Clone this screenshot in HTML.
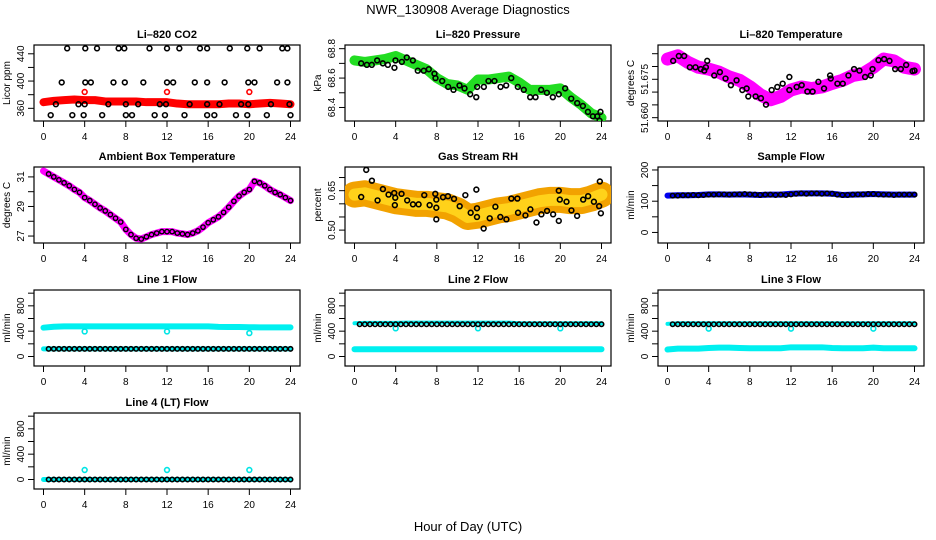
<!DOCTYPE html>
<html><head><meta charset="utf-8">
<style>
html,body{margin:0;padding:0;background:#fff;}
svg{display:block;font-family:"Liberation Sans",sans-serif;}
</style></head>
<body>
<svg id="chart" width="936" height="540" viewBox="0 0 936 540">
<text x="468" y="14" text-anchor="middle" font-size="13">NWR_130908  Average Diagnostics</text>
<text x="468" y="531" text-anchor="middle" font-size="13">Hour of Day (UTC)</text>
</svg>
<script>
// ---------- DATA ----------
const hoursHourly = [0,1,2,3,4,5,6,7,8,9,10,11,12,13,14,15,16,17,18,19,20,21,22,23,24];
const hoursHalf = [0.5,1,1.5,2,2.5,3,3.5,4,4.5,5,5.5,6,6.5,7,7.5,8,8.5,9,9.5,10,10.5,11,11.5,12,12.5,13,13.5,14,14.5,15,15.5,16,16.5,17,17.5,18,18.5,19,19.5,20,20.5,21,21.5,22,22.5,23,23.5,24];

// CO2
const co2Band = [369,371,372,373,372,372,370,370,370,370,369,369,369,367,366,366,366,366,367,367,366,367,368,367,366];
const co2BlackHours = [2.3,4.06,5.2,7.3,7.85,10.3,12.0,13.2,15.2,15.9,18.1,19.8,21.0,23.2,23.7,
 1.77,4.06,4.6,6.8,7.9,9.7,12.0,12.6,14.7,15.9,17.6,19.9,20.5,22.7,23.7,
 1.2,3.4,4.0,6.3,8.0,9.2,11.3,11.9,14.2,15.9,17.1,19.2,19.9,22.1,23.9,
 0.7,2.8,3.9,5.7,8.0,8.6,10.8,11.8,13.7,15.9,16.6,18.7,19.8,21.7,24.0];
const co2BlackVals = [448,448,448,448,448,448,448,448,448,448,448,448,448,448,448,
 398,398,398,398,398,398,398,398,398,398,398,398,398,398,398,
 366,366,366,366,366,366,366,366,366,366,366,366,366,366,366,
 350,350,350,350,350,350,350,350,350,350,350,350,350,350,350];
const co2OutHours = [4,12,20];
const co2OutVals = [384,384,384];

// Pressure
const presBand = [68.72,68.71,68.72,68.73,68.75,68.72,68.69,68.66,68.60,68.56,68.55,68.52,68.59,68.59,68.60,68.61,68.57,68.52,68.52,68.52,68.53,68.47,68.42,68.36,68.33];
const presBlackHours = [0.65,1.2,1.68,2.2,2.75,3.24,3.88,3.98,4.6,5.08,5.67,6.15,6.73,7.22,7.77,7.87,8.52,9.1,9.62,10.2,10.69,11.24,11.83,11.92,12.57,13.02,13.6,14.19,14.74,15.23,15.87,16.45,17.07,17.59,18.14,18.69,19.27,19.85,20.47,21.06,21.64,22.19,22.68,23.16,23.59,23.81,23.9];
const presBlackVals = [68.70,68.69,68.69,68.72,68.70,68.69,68.67,68.72,68.71,68.74,68.72,68.65,68.65,68.66,68.63,68.60,68.58,68.54,68.52,68.55,68.53,68.49,68.47,68.54,68.54,68.58,68.58,68.54,68.55,68.60,68.54,68.52,68.47,68.47,68.52,68.50,68.47,68.49,68.53,68.46,68.43,68.41,68.37,68.34,68.34,68.31,68.37];

// Li-820 temperature
const tempBand = [51.6829,51.6842,51.6816,51.6797,51.679,51.6778,51.6759,51.6746,51.6721,51.669,51.667,51.6683,51.6708,51.672,51.6714,51.672,51.6734,51.6746,51.6765,51.6772,51.6797,51.6829,51.6822,51.6797,51.679];
const tempBlackHours = [0.55,1.1,1.62,2.17,2.72,3.24,3.57,3.73,3.86,4.54,5.09,5.64,6.16,6.71,7.27,7.69,7.85,8.56,9.08,9.57,10.12,10.67,11.19,11.84,11.84,12.55,13.04,13.59,14.1,14.66,15.21,15.8,15.86,16.51,17.03,17.58,18.13,18.65,19.2,19.75,19.92,20.5,21.05,21.57,22.12,22.67,23.19,23.81,24];
const tempBlackVals = [51.6822,51.6841,51.6841,51.6797,51.6797,51.679,51.6784,51.6797,51.6822,51.6765,51.6778,51.6753,51.6727,51.6746,51.6708,51.6714,51.6683,51.6683,51.6676,51.6651,51.6708,51.672,51.6733,51.6759,51.6708,51.672,51.6727,51.6702,51.6702,51.674,51.6714,51.6765,51.6753,51.6733,51.6733,51.6765,51.679,51.6784,51.6759,51.6765,51.679,51.6825,51.6829,51.6822,51.679,51.679,51.6806,51.6782,51.6784];

// Ambient box temperature
const ambVals = [31.2,31.0,30.8,30.6,30.4,30.15,29.95,29.6,29.4,29.15,28.9,28.7,28.45,28.2,27.95,27.45,27.1,26.85,26.8,26.95,27.1,27.2,27.3,27.3,27.3,27.2,27.15,27.1,27.2,27.35,27.6,27.9,28.1,28.3,28.6,28.95,29.35,29.7,29.95,30.15,30.7,30.6,30.4,30.15,29.95,29.8,29.6,29.4];
const ambStart = [0, 31.4];

// Gas stream RH
const rhBand = [0.635,0.64,0.63,0.62,0.61,0.605,0.60,0.60,0.595,0.59,0.575,0.55,0.555,0.565,0.575,0.58,0.59,0.60,0.61,0.615,0.615,0.61,0.61,0.62,0.635];
const rhBlackHours = [0.65,1.14,1.69,2.24,2.76,3.31,3.86,3.92,3.96,4.57,5.12,5.68,6.23,6.78,7.3,7.85,7.95,7.95,7.95,8.6,9.08,9.67,10.22,10.77,11.29,11.84,11.9,11.9,12.55,13.14,13.69,14.17,14.76,15.24,15.83,15.89,16.61,17.09,17.68,18.16,18.71,19.3,19.85,19.85,19.95,20.6,21.08,21.63,22.22,22.7,23.26,23.77,23.84,23.94];
const rhBlackVals = [0.626,0.729,0.688,0.613,0.656,0.635,0.641,0.595,0.623,0.638,0.613,0.598,0.598,0.633,0.595,0.638,0.616,0.585,0.541,0.625,0.629,0.619,0.591,0.633,0.566,0.654,0.583,0.55,0.506,0.545,0.589,0.55,0.541,0.62,0.62,0.566,0.556,0.579,0.529,0.56,0.573,0.56,0.535,0.65,0.616,0.608,0.575,0.554,0.616,0.629,0.608,0.591,0.685,0.564];

// Sample flow
const sampleBand = [118,119,119,120,122,122,121,122,121,120,121,121,124,125,125,125,124,120,121,122,123,122,121,121,121];
const sampleBlack = [118,118,119,119,120,119,120,121,121,122,122,121,122,122,123,122,121,120,121,121,120,121,120,122,124,125,124,125,125,124,125,124,121,120,120,121,122,122,123,123,122,121,121,120,121,121,121,121];

// Line flows
const line1Cyan = [455,470,475,475,475,475,475,475,475,475,475,475,475,475,475,475,475,468,465,465,462,460,460,460,460];
const line1CyanLow = [120,120,120,120,120,120,120,120,120,120,120,120,120,120,120,120,120,120,120,120,120,120,120,120,120];
const line1Black = [120,120,120,120,120,120,120,120,120,120,120,120,120,120,120,120,120,120,120,120,120,120,120,120,120,120,120,120,120,120,120,120,120,120,120,120,120,120,120,120,120,120,120,120,120,120,120,120];
const line1Out = [395,395,370];
const line2Cyan = [525,530,530,530,530,535,535,535,535,535,535,535,535,535,535,535,525,525,525,525,525,525,525,525,525];
const line2CyanLow = [115,115,115,115,115,115,115,115,115,115,115,115,115,115,115,115,115,115,115,115,115,115,115,115,115];
const line2Black = [510,510,510,510,510,510,510,510,510,510,510,510,510,510,510,510,510,510,510,510,510,510,510,510,510,510,510,510,510,510,510,510,510,510,510,510,510,510,510,510,510,510,510,510,510,510,510,510];
const line2Out = [445,445,445];
const line3Cyan = [515,525,525,525,525,525,525,525,525,525,525,525,525,525,525,525,525,525,525,525,525,525,525,525,525];
const line3CyanLow = [110,125,125,125,135,140,140,135,130,130,130,130,145,145,145,145,135,130,130,130,140,130,130,130,130];
const line3Black = [510,510,510,510,510,510,510,510,510,510,510,510,510,510,510,510,510,510,510,510,510,510,510,510,510,510,510,510,510,510,510,510,510,510,510,510,510,510,510,510,510,510,510,510,510,510,510,510];
const line3Out = [440,440,440];
const line4Cyan = [0,0,0,0,0,0,0,0,0,0,0,0,0,0,0,0,0,0,0,0,0,0,0,0,0];
const line4Black = [0,0,0,0,0,0,0,0,0,0,0,0,0,0,0,0,0,0,0,0,0,0,0,0,0,0,0,0,0,0,0,0,0,0,0,0,0,0,0,0,0,0,0,0,0,0,0,0];
const line4Out = [150,150,150];
const outHours = [4,12,20];
const xTicks = [0,4,8,12,16,20,24];

// ---------- DRAWING ----------
const NS = 'http://www.w3.org/2000/svg';
const svg = document.getElementById('chart');
const colLeft = [34, 345, 658];
const rowTop = [45, 167, 290, 413];
const PW = 266, PH = 76;

function mk(tag, parent) { const e = document.createElementNS(NS, tag); parent.appendChild(e); return e; }

function panel(col, row, title, ylab, ymin, ymax, ticks, labels, name) {
  const g = mk('g', svg);
  
  
  const L = colLeft[col], T = rowTop[row];
  const xs = h => L + 9.5 + h * (247 / 24);
  const ys = v => T + PH - (v - ymin) / (ymax - ymin) * PH;
  const t = mk('text', g);
  t.setAttribute('x', L + PW / 2); t.setAttribute('y', T - 7);
  t.setAttribute('text-anchor', 'middle'); t.setAttribute('font-size', '11'); t.setAttribute('font-weight', 'bold');
  t.textContent = title;
  
  
  const box = mk('rect', g);
  box.setAttribute('x', L); box.setAttribute('y', T); box.setAttribute('width', PW); box.setAttribute('height', PH);
  box.setAttribute('fill', 'none'); box.setAttribute('stroke', '#000'); box.setAttribute('stroke-width', '1.2');
  
  
  xTicks.forEach(h => {
    const ln = mk('line', g);
    ln.setAttribute('x1', xs(h)); ln.setAttribute('x2', xs(h)); ln.setAttribute('y1', T + PH); ln.setAttribute('y2', T + PH + 6);
    ln.setAttribute('stroke', '#000');
    const tx = mk('text', g);
    tx.setAttribute('x', xs(h)); tx.setAttribute('y', T + PH + 19); tx.setAttribute('text-anchor', 'middle'); tx.setAttribute('font-size', '10');
    tx.textContent = h;
    
    
  });
  ticks.forEach(v => {
    const ln = mk('line', g);
    ln.setAttribute('x1', L - 6); ln.setAttribute('x2', L); ln.setAttribute('y1', ys(v)); ln.setAttribute('y2', ys(v));
    ln.setAttribute('stroke', '#000');
  });
  labels.forEach(v => {
    const tx = mk('text', g);
    const yy = ys(v);
    tx.setAttribute('transform', `translate(${L - 10},${yy}) rotate(-90)`);
    tx.setAttribute('text-anchor', 'middle'); tx.setAttribute('font-size', '10');
    tx.textContent = (typeof v === 'number' && ymax - ymin < 1) ? v.toFixed(ymax - ymin < 0.1 ? 3 : (ymax - ymin < 0.6 && ymin > 60 ? 1 : 2)) : v;
    
    
  });
  const yl = mk('text', g);
  yl.setAttribute('transform', `translate(${L - 24},${T + PH / 2}) rotate(-90)`);
  yl.setAttribute('text-anchor', 'middle'); yl.setAttribute('font-size', '10');
  yl.textContent = ylab;
  
  
  const cp = mk('clipPath', g); cp.setAttribute('id', 'cp-' + name);
  const cr = mk('rect', cp); cr.setAttribute('x', L); cr.setAttribute('y', T); cr.setAttribute('width', PW); cr.setAttribute('height', PH);
  const data = mk('g', g); data.setAttribute('clip-path', `url(#cp-${name})`);
  return { g: data, xs, ys };
}

function band(p, hrs, vals, color, width, nm) {
  const pl = mk('polyline', p.g);
  pl.setAttribute('points', hrs.map((h, i) => p.xs(h) + ',' + p.ys(vals[i])).join(' '));
  pl.setAttribute('fill', 'none'); pl.setAttribute('stroke', color); pl.setAttribute('stroke-width', width);
  pl.setAttribute('stroke-linejoin', 'round'); pl.setAttribute('stroke-linecap', 'round');
  
  
}
function pts(p, hrs, vals, color, nm, r, sw) {
  hrs.forEach((h, i) => {
    const c = mk('circle', p.g);
    c.setAttribute('cx', p.xs(h)); c.setAttribute('cy', p.ys(vals[i])); c.setAttribute('r', r || 2.4);
    c.setAttribute('fill', 'none'); c.setAttribute('stroke', color); c.setAttribute('stroke-width', sw || 1.6);
    
    
  });
}

let p = panel(0, 0, 'Li\u2013820 CO2', 'Licor ppm', 341.4, 452.9, [360,380,400,420,440], [360,400,440], 'co2');
band(p, hoursHourly, co2Band, '#ff0000', 8, 'co2-band');
pts(p, co2OutHours, co2OutVals, '#ff0000', 'co2-outlier');
pts(p, co2BlackHours, co2BlackVals, '#000', 'co2-point');

p = panel(1, 0, 'Li\u2013820 Pressure', 'kPa', 68.308, 68.825, [68.4,68.5,68.6,68.7,68.8], [68.4,68.6,68.8], 'pressure');
band(p, hoursHourly, presBand, '#22dd22', 10, 'pressure-band');
pts(p, presBlackHours, presBlackVals, '#000', 'pressure-point');

p = panel(2, 0, 'Li\u2013820 Temperature', 'degrees C', 51.6587, 51.6884, [51.660,51.665,51.670,51.675,51.680,51.685], [51.660,51.675], 'li820-temp');
band(p, hoursHourly, tempBand, '#ff00ff', 13, 'temp-band');
pts(p, tempBlackHours, tempBlackVals, '#000', 'temp-point');

p = panel(0, 1, 'Ambient Box Temperature', 'degrees C', 26.53, 31.67, [27,28,29,30,31], [27,29,31], 'ambient');
band(p, [ambStart[0]].concat(hoursHalf), [ambStart[1]].concat(ambVals), '#ff00ff', 7, 'ambient-line');
pts(p, hoursHalf, ambVals, '#000', 'ambient-point', 2.2, 1.4);

p = panel(1, 1, 'Gas Stream RH', 'percent', 0.451, 0.74, [0.50,0.55,0.60,0.65,0.70], [0.50,0.65], 'rh');
band(p, hoursHourly, rhBand, '#f2a200', 26, 'rh-band');
band(p, hoursHourly, rhBand, '#ffd21a', 12, 'rh-band-inner');
pts(p, rhBlackHours, rhBlackVals, '#000', 'rh-point');

p = panel(2, 1, 'Sample Flow', 'ml/min', -33.8, 209.5, [0,50,100,150,200], [0,100,200], 'sample-flow');
band(p, hoursHourly, sampleBand, '#0000ee', 6, 'sample-band');
pts(p, hoursHalf, sampleBlack, '#000', 'sample-point', 2.2, 1.6);

const fT = [0,200,400,600,800,1000], fL = [0,400,800];
p = panel(0, 2, 'Line 1 Flow', 'ml/min', -150, 1050, fT, fL, 'line1');
band(p, hoursHourly, line1Cyan, '#00f0f0', 6, 'line1-cyan');
band(p, hoursHourly, line1CyanLow, '#00f0f0', 5, 'line1-cyan-low');
pts(p, outHours, line1Out, '#00e5e5', 'line1-outlier');
pts(p, hoursHalf, line1Black, '#000', 'line1-point', 2.2, 1.6);
p = panel(1, 2, 'Line 2 Flow', 'ml/min', -150, 1050, fT, fL, 'line2');
band(p, hoursHourly, line2Cyan, '#00f0f0', 4, 'line2-cyan');
band(p, hoursHourly, line2CyanLow, '#00f0f0', 6, 'line2-cyan-low');
pts(p, outHours, line2Out, '#00e5e5', 'line2-outlier');
pts(p, hoursHalf, line2Black, '#000', 'line2-point', 2.2, 1.6);
p = panel(2, 2, 'Line 3 Flow', 'ml/min', -150, 1050, fT, fL, 'line3');
band(p, hoursHourly, line3Cyan, '#00f0f0', 4, 'line3-cyan');
band(p, hoursHourly, line3CyanLow, '#00f0f0', 6, 'line3-cyan-low');
pts(p, outHours, line3Out, '#00e5e5', 'line3-outlier');
pts(p, hoursHalf, line3Black, '#000', 'line3-point', 2.2, 1.6);
p = panel(0, 3, 'Line 4 (LT) Flow', 'ml/min', -150, 1050, fT, fL, 'line4');
band(p, hoursHourly, line4Cyan, '#00f0f0', 5, 'line4-cyan');
pts(p, outHours, line4Out, '#00e5e5', 'line4-outlier');
pts(p, hoursHalf, line4Black, '#000', 'line4-point', 2.2, 1.6);
</script>
</body></html>
